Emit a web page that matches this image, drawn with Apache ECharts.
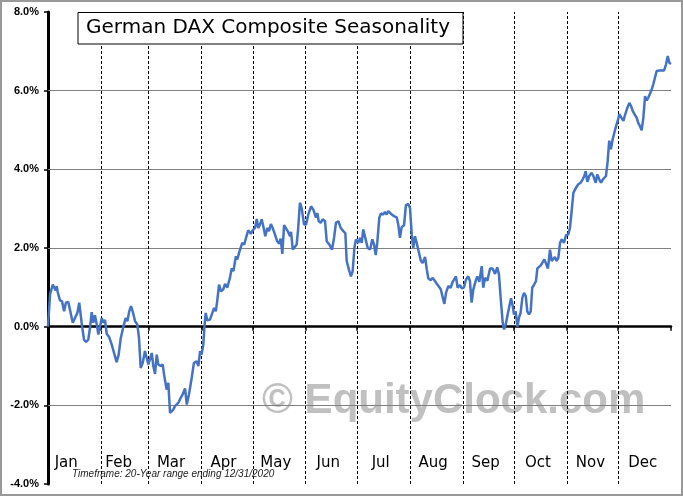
<!DOCTYPE html>
<html><head><meta charset="utf-8">
<script src="https://cdn.jsdelivr.net/npm/echarts@6/dist/echarts.min.js"></script>
<style>html,body{margin:0;padding:0;background:#fff}#c{width:683px;height:496px}</style>
</head><body><div id="c"></div>
<script>
const chartTitle = 'German DAX Composite Seasonality';
const footnote = 'Timeframe: 20-Year range ending 12/31/2020';
const watermark = '\u00A9 EquityClock.com';
const months = ['Jan','Feb','Mar','Apr','May','Jun','Jul','Aug','Sep','Oct','Nov','Dec'];
const monthStarts = [31,59,90,120,151,181,212,243,273,304,334];
const gridLevels = [-2,2,4,6];
const days = [
0,1.2,2.8,3.5,4.5,5.1,5.7,7.0,8.2,9.4,
10.5,11.9,12.9,14.5,15.8,17.2,18.3,19.7,21.1,22.3,
23.6,24.6,25.6,26.5,27.5,28.5,29.5,30.5,31.5,32.4,
33.4,34.4,35.9,37.3,38.7,40.2,41.4,42.6,44.1,45.5,
46.5,47.6,48.6,49.6,51.0,52.3,53.3,54.3,55.5,56.8,
57.8,58.8,59.8,60.8,61.7,62.7,63.7,64.6,66.0,67.2,
68.0,69.0,69.5,70.5,71.5,72.5,73.4,74.4,75.4,76.3,
77.3,78.9,80.3,81.3,82.6,84.2,85.5,87.1,88.1,89.1,
90.0,91.0,91.6,92.4,93.3,94.9,96.3,97.3,98.3,99.2,
100.2,101.4,102.7,103.7,105.0,106.6,107.6,108.6,110.1,110.9,
112.1,112.9,113.8,115.0,116.0,117.3,118.8,119.9,121.3,122.3,
123.2,124.2,125.2,126.1,127.3,128.5,129.5,130.6,131.6,133.0,
134.3,135.5,136.3,137.3,138.3,139.4,140.4,141.8,142.4,143.4,
144.3,145.7,146.6,147.6,148.6,150.0,151.2,152.5,154.1,155.4,
157.0,157.8,158.6,159.8,160.9,162.3,163.3,164.8,166.4,167.6,
168.7,170.1,171.5,173.0,174.2,175.0,176.3,177.5,178.5,179.5,
180.4,181.8,182.8,183.8,184.7,186.1,187.3,188.7,190.0,191.0,
192.0,192.9,194.1,195.1,196.4,197.4,198.4,199.4,200.4,201.4,
202.7,204.3,205.2,206.2,207.2,208.6,209.7,211.1,212.1,213.1,
214.0,215.0,216.0,216.9,218.4,219.5,220.9,221.9,222.8,224.2,
225.4,226.7,228.1,228.7,230.1,231.2,232.2,233.2,234.5,235.9,
237.1,238.0,239.0,240.0,241.4,242.4,243.7,244.9,246.2,247.2,
248.2,249.2,250.6,251.5,252.7,254.1,255.0,256.0,257.4,259.0,
260.5,261.9,263.2,264.2,265.2,266.4,267.2,268.2,269.3,270.3,
271.3,272.3,273.0,274.0,275.0,276.0,276.9,277.9,278.9,279.9,
280.8,281.8,282.8,283.7,284.7,285.9,286.7,287.8,288.7,289.8,
290.8,291.8,292.9,294.1,295.1,296.0,297.0,298.0,299.0,300.0,
301.0,302.3,303.5,304.8,305.8,306.8,307.8,309.3,310.7,312.1,
313.2,314.2,315.0,316.0,317.1,318.5,319.5,320.9,321.8,323.0,
324.0,325.0,325.9,326.9,327.9,328.8,329.8,330.8,331.8,332.8,
333.8,334.7,335.7,337.1,338.2,339.4,340.6,341.6,342.6,343.7,
344.9,345.8,346.8,347.8,348.8,349.8,350.8,351.7,352.7,353.7,
354.6,355.6,356.6,358.1,359.5,360.9,362.1,363.1,364.0,365
];
const values = [
0.00,0.82,1.07,1.07,0.92,1.03,0.88,0.67,0.65,0.39,
0.61,0.63,0.61,0.10,0.22,0.35,0.61,0.10,-0.33,-0.39,
-0.33,-0.03,0.37,0.10,0.29,0.07,-0.20,0.01,0.22,0.10,
0.17,-0.18,-0.27,-0.45,-0.67,-0.90,-0.71,-0.30,-0.01,0.22,
0.14,0.39,0.52,0.39,0.14,0.06,-0.28,-1.05,-0.92,-0.62,
-0.79,-0.96,-1.00,-0.67,-1.00,-1.20,-0.71,-0.96,-1.00,-0.96,
-1.22,-1.47,-1.60,-1.43,-2.19,-2.15,-2.11,-2.02,-2.06,-1.94,
-1.85,-1.72,-1.57,-1.98,-1.72,-1.30,-0.92,-0.88,-1.00,-0.62,
-0.71,-0.45,-0.03,0.35,0.16,0.18,0.35,0.48,0.39,0.67,
1.07,0.90,0.95,1.09,0.99,1.24,1.48,1.41,1.79,1.71,
1.90,1.92,2.13,2.09,2.26,2.45,2.36,2.45,2.51,2.74,
2.51,2.60,2.73,2.56,2.30,2.51,2.43,2.61,2.51,2.34,
2.17,2.11,2.24,1.85,2.58,2.61,2.43,2.30,2.41,1.96,
1.95,2.09,2.51,3.15,3.02,2.60,2.60,2.85,3.06,2.98,
2.77,2.89,2.68,2.64,2.73,2.68,2.17,2.09,1.96,2.26,
2.64,2.68,2.51,2.43,2.38,1.67,1.45,1.28,1.41,2.00,
2.22,2.13,2.26,2.13,2.47,2.22,2.00,1.96,2.22,2.09,
1.82,2.13,2.77,2.88,2.85,2.92,2.85,2.94,2.95,2.85,
2.81,2.78,2.60,2.26,2.53,2.58,3.09,3.12,3.02,2.34,
2.00,2.30,2.13,1.96,1.68,1.62,1.77,1.46,1.23,1.18,
1.24,1.16,1.07,1.11,0.95,0.90,0.58,0.86,1.03,0.99,
1.14,1.11,1.28,0.99,1.06,0.97,1.00,1.20,1.28,1.16,
0.61,0.95,1.17,1.28,1.14,1.54,0.99,1.24,1.17,1.48,
1.48,1.34,1.51,1.33,0.73,0.10,-0.07,0.06,0.31,0.52,
0.72,0.52,0.31,0.39,0.00,0.24,0.35,0.73,0.86,0.78,
0.39,0.31,0.39,0.99,1.06,1.16,1.48,1.48,1.56,1.58,
1.71,1.68,1.48,1.96,1.67,1.65,1.77,1.67,1.75,2.13,
2.22,2.13,2.33,2.34,2.51,2.94,3.40,3.53,3.62,3.66,
3.74,3.83,3.95,3.68,3.83,3.91,3.83,3.66,3.87,3.74,
3.66,3.74,3.78,3.83,4.21,4.73,4.51,4.76,4.93,5.10,
5.23,5.40,5.45,5.23,5.40,5.56,5.69,5.61,5.48,5.52,
5.31,5.18,5.10,4.99,5.31,5.86,5.75,5.82,5.78,6.03,
6.16,6.20,6.50,6.51,6.51,6.51,6.67,6.88,6.71,6.68
];

const chart = echarts.init(document.getElementById('c'), null, {renderer: 'canvas'});
const lineData = days.map((d, i) => [d, values[i]]);

chart.setOption({
  backgroundColor: '#ffffff',
  animation: false,
  grid: [
    {left: 48, right: 12, top: 12, bottom: 12},
    {left: 40, right: 14, top: 12, bottom: 44}
  ],
  xAxis: [
    {
      type: 'value', gridIndex: 0, min: 0, max: 365,
      axisLine: {onZero: true, lineStyle: {color: '#000', width: 2.5}},
      axisTick: {show: true, length: 4, customValues: monthStarts.concat([365]), lineStyle: {color: '#000', width: 1.5}},
      axisLabel: {show: false},
      splitLine: {show: false}
    },
    {
      type: 'category', gridIndex: 1, data: months, boundaryGap: true,
      axisLine: {show: false}, axisTick: {show: false}, splitLine: {show: false},
      axisLabel: {fontFamily: 'DejaVu Sans', fontSize: 15, color: '#000', margin: 4}
    }
  ],
  yAxis: [
    {
      type: 'value', gridIndex: 0, min: -4, max: 8, interval: 2,
      axisLine: {show: true, lineStyle: {color: '#000', width: 3}},
      axisTick: {show: true, length: 4, lineStyle: {color: '#000', width: 1.5}},
      axisLabel: {
        formatter: v => v.toFixed(1) + '%',
        fontFamily: 'Liberation Sans', fontWeight: 'bold', fontSize: 11, color: '#000', margin: 9
      },
      splitLine: {show: false}
    },
    {type: 'value', gridIndex: 1, show: false}
  ],
  series: [
    {
      type: 'line', xAxisIndex: 0, yAxisIndex: 0,
      data: lineData, showSymbol: false, symbol: 'none',
      lineStyle: {color: '#4472C4', width: 2.5},
      z: 5,
      markLine: {
        silent: true, symbol: 'none', label: {show: false},
        data: gridLevels.map(v => ({yAxis: v, lineStyle: {color: '#808080', width: 1, type: 'solid'}}))
          .concat(monthStarts.map(d => ({xAxis: d, lineStyle: {color: '#000', width: 1, type: [3, 2]}})))
      }
    }
  ],
  graphic: [
    {
      type: 'text', z: -10, left: 262, top: 380,
      style: {text: watermark, fill: '#c0c0c0', font: 'bold 42px "Liberation Sans"'}
    },
    {
      type: 'rect', z: 100, shape: {x: 78, y: 12.5, width: 385, height: 31.5},
      style: {fill: '#fff', stroke: '#000', lineWidth: 1}
    },
    {
      type: 'text', z: 101, left: 86, top: 18,
      style: {text: chartTitle, fill: '#000', font: '20px "DejaVu Sans"'}
    },
    {
      type: 'text', z: 101, left: 72, top: 469,
      style: {text: footnote, fill: '#222', font: 'italic 10px "Liberation Sans"'}
    },
    {
      type: 'rect', z: 100, shape: {x: 1, y: 1, width: 681, height: 494},
      style: {fill: 'none', stroke: '#999', lineWidth: 2}
    }
  ]
});
</script>
</body></html>
